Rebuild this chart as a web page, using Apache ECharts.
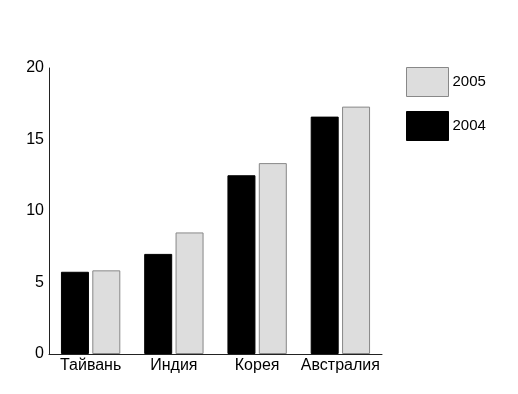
<!DOCTYPE html>
<html><head><meta charset="utf-8">
<script src="https://cdn.jsdelivr.net/npm/echarts@6/dist/echarts.min.js"></script>
<style>html,body{margin:0;padding:0;background:#fff}#c{width:518px;height:394px}</style>
</head><body><div id="c"></div>
<script>
const categories = ['Тайвань', 'Индия', 'Корея', 'Австралия'];
const values2004 = [5.75, 7.0, 12.5, 16.6];
const values2005 = [5.85, 8.5, 13.35, 17.3];
const yTicks = [0, 5, 10, 15, 20];

const chart = echarts.init(document.getElementById('c'));
const font = 'Liberation Sans, Arial, sans-serif';
chart.setOption({
  animation: false,
  backgroundColor: '#fff',
  grid: { left: 49, right: 136, top: 68, bottom: 40 },
  legend: {
    orient: 'vertical', left: 401, top: 62,
    itemWidth: 42, itemHeight: 29, itemGap: 14,
    data: ['2005', '2004'],
    itemStyle: { borderWidth: 1 },
    textStyle: { fontFamily: font, fontSize: 15, color: '#000', padding: [0, 0, 0, -1] },
    icon: 'rect'
  },
  xAxis: {
    type: 'category', data: categories,
    axisLine: { lineStyle: { color: '#222', width: 1 } },
    axisTick: { inside: true, length: 8, lineStyle: { color: '#222' } },
    axisLabel: { interval: 0, fontFamily: font, fontSize: 16, color: '#000', margin: 4 }
  },
  yAxis: {
    type: 'value', min: yTicks[0], max: yTicks[yTicks.length - 1], interval: 5,
    splitLine: { show: false },
    axisLine: { show: true, lineStyle: { color: '#222', width: 1 } },
    axisTick: { show: false },
    axisLabel: { fontFamily: font, fontSize: 16, color: '#000', margin: 5 }
  },
  series: [
    { name: '2004', type: 'bar', data: values2004, barWidth: 28, barGap: '12%',
      itemStyle: { color: '#000', borderColor: '#000', borderWidth: 1 } },
    { name: '2005', type: 'bar', data: values2005, barWidth: 28,
      itemStyle: { color: '#dddddd', borderColor: '#888', borderWidth: 1 } }
  ]
});
</script></body></html>
